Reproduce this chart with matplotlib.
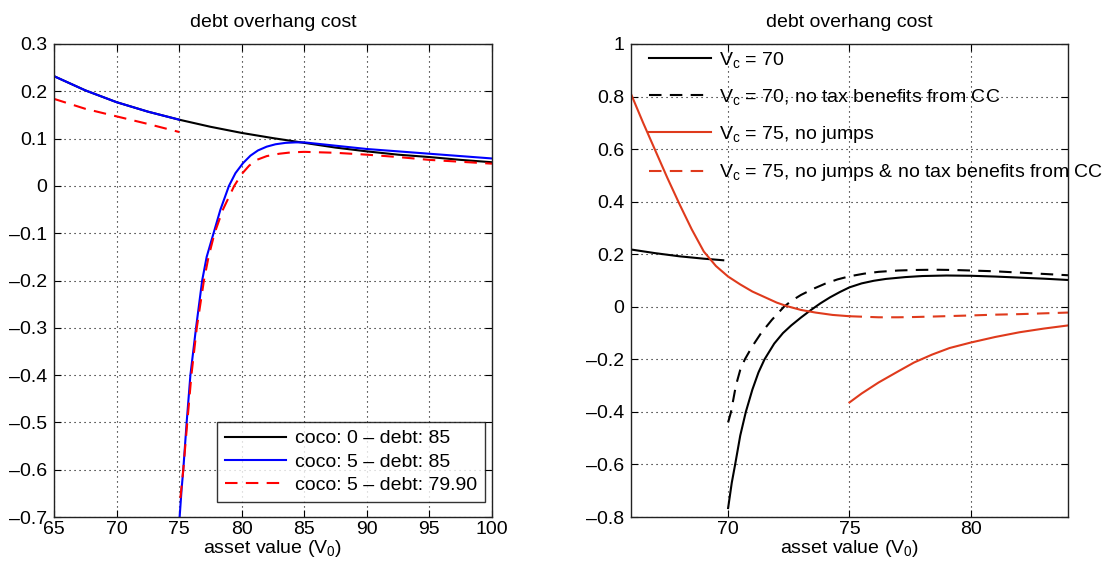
import matplotlib
matplotlib.use("Agg")
import matplotlib.pyplot as plt
from matplotlib.ticker import FuncFormatter

plt.rcParams['font.family'] = ['Liberation Sans', 'DejaVu Sans']
plt.rcParams['mathtext.fontset'] = 'custom'
plt.rcParams['mathtext.rm'] = 'Liberation Sans'
plt.rcParams['mathtext.it'] = 'Liberation Sans'
FS = 14
plt.rcParams['font.size'] = FS

# ---------------- left panel data ----------------
left_title = "debt overhang cost"
xlabel = "asset value (V$_0$)"

# coco: 0 - debt: 85 (black)
black_x = [65, 67.5, 70, 72.5, 75, 77.5, 80, 82.5, 85, 87.5, 90, 92.5, 95, 97.5, 100]
black_y = [0.232, 0.202, 0.177, 0.157, 0.140, 0.125, 0.112, 0.101, 0.091, 0.081, 0.073, 0.066, 0.061, 0.055, 0.050]

# coco: 5 - debt: 85 (blue), two branches
blue1_x = [65, 67.5, 70, 72.5, 75]
blue1_y = [0.232, 0.202, 0.177, 0.157, 0.140]
blue2_x = [75.04, 75.2, 75.33, 75.6, 75.9, 76.35, 76.84, 77.2, 77.75, 78.3, 78.98, 79.5, 80.1, 80.7,
           81.3, 82.0, 82.7, 83.5, 84.3, 85.0, 87.5, 90, 92.5, 95, 97.5, 100]
blue2_y = [-0.70, -0.64, -0.60, -0.50, -0.40, -0.30, -0.20, -0.15, -0.10, -0.05, 0.0, 0.027, 0.048, 0.064,
           0.075, 0.083, 0.088, 0.091, 0.092, 0.092, 0.085, 0.078, 0.073, 0.068, 0.063, 0.058]

# coco: 5 - debt: 79.90 (red dashed), two branches
red1_x = [65, 67.5, 70, 72.5, 75]
red1_y = [0.184, 0.163, 0.147, 0.131, 0.114]
red2_x = [75.1, 75.33, 75.65, 75.98, 76.41, 76.98, 77.35, 77.83, 78.5, 79.4, 80.0, 80.6, 81.2,
          82.0, 83.0, 84.0, 85.0, 87.5, 90, 92.5, 95, 97.5, 100]
red2_y = [-0.66, -0.60, -0.50, -0.40, -0.30, -0.20, -0.15, -0.10, -0.05, 0.0, 0.025, 0.043, 0.055,
          0.063, 0.068, 0.071, 0.072, 0.070, 0.066, 0.061, 0.055, 0.051, 0.047]

left_labels = ["coco: 0 \u2013 debt: 85", "coco: 5 \u2013 debt: 85", "coco: 5 \u2013 debt: 79.90"]
left_xticks = [65, 70, 75, 80, 85, 90, 95, 100]
left_yticks = [-0.7, -0.6, -0.5, -0.4, -0.3, -0.2, -0.1, 0, 0.1, 0.2, 0.3]

# ---------------- right panel data ----------------
# V_c = 70 (black solid), two branches
k1_x = [66, 67, 68, 69, 69.8]
k1_y = [0.218, 0.204, 0.192, 0.183, 0.177]
k2_x = [70.0, 70.15, 70.29, 70.5, 70.73, 71.0, 71.25, 71.5, 71.9, 72.26, 72.6, 73.0, 73.4, 73.8, 74.2,
        74.6, 75.0, 75.5, 76.0, 76.5, 77.3, 78.0, 79.0, 80.0, 81.0, 82.0, 83.0, 84.0]
k2_y = [-0.766, -0.67, -0.60, -0.49, -0.40, -0.315, -0.25, -0.20, -0.14, -0.10, -0.071, -0.041, -0.013, 0.013, 0.036,
        0.056, 0.074, 0.089, 0.099, 0.106, 0.113, 0.117, 0.119, 0.118, 0.115, 0.111, 0.107, 0.102]

# V_c = 70, no tax benefits from CC (black dashed)
kd_x = [70.0, 70.12, 70.32, 70.5, 70.69, 71.0, 71.36, 71.8, 72.3, 72.6, 73.0, 73.5, 74.0, 74.5, 75.0,
        75.6, 76.2, 77.0, 77.7, 78.5, 79.3, 80.0, 81.0, 82.0, 83.0, 84.0]
kd_y = [-0.44, -0.40, -0.30, -0.24, -0.20, -0.15, -0.10, -0.05, 0.0, 0.022, 0.045, 0.068, 0.088, 0.104, 0.116,
        0.126, 0.133, 0.138, 0.140, 0.141, 0.140, 0.138, 0.135, 0.130, 0.125, 0.120]

# V_c = 75, no jumps (red solid), two branches
r1_x = [66.0, 66.5, 67.0, 67.5, 68.0, 68.5, 69.0, 69.5, 70.0, 70.5, 71.0, 71.5, 72.0, 72.4, 73.0, 73.6, 74.3, 75.0]
r1_y = [0.81, 0.70, 0.595, 0.49, 0.39, 0.295, 0.21, 0.155, 0.115, 0.085, 0.058, 0.037, 0.016, 0.003, -0.012, -0.022, -0.031, -0.036]
r2_x = [75.0, 75.5, 76.2, 77.0, 77.66, 78.4, 79.12, 80.0, 81.0, 82.0, 83.0, 84.0]
r2_y = [-0.364, -0.33, -0.288, -0.246, -0.212, -0.182, -0.157, -0.136, -0.115, -0.097, -0.083, -0.071]

# V_c = 75, no jumps & no tax benefits from CC (red dashed)
rd_x = [75.0, 76.2, 77.0, 77.66, 78.5, 80.0, 81.0, 82.0, 83.0, 84.0]
rd_y = [-0.036, -0.040, -0.040, -0.039, -0.037, -0.033, -0.030, -0.028, -0.025, -0.022]

right_labels = ["$\\mathrm{V_c}$ = 70", "$\\mathrm{V_c}$ = 70, no tax benefits from CC",
                "$\\mathrm{V_c}$ = 75, no jumps", "$\\mathrm{V_c}$ = 75, no jumps & no tax benefits from CC"]
right_xticks = [70, 75, 80]
right_yticks = [-0.8, -0.6, -0.4, -0.2, 0, 0.2, 0.4, 0.6, 0.8, 1.0]

RED2 = '#DF3A1C'
LW = 1.5
DASH = (6, 4)


def fmt(v, pos):
    s = '%g' % round(v, 6)
    return s.replace('-', '\u2013')


def style(ax):
    ax.grid(True, linestyle=(0, (1, 3.5)), color='black', linewidth=0.8)
    ax.tick_params(direction='in', top=True, right=True, length=5, width=0.8, labelsize=FS, pad=3)
    ax.tick_params(axis='y', pad=5)
    for sp in ax.spines.values():
        sp.set_linewidth(1.0)
        sp.set_color('#222222')
    ax.yaxis.set_major_formatter(FuncFormatter(fmt))
    ax.xaxis.set_major_formatter(FuncFormatter(fmt))


fig = plt.figure(figsize=(11.15, 5.71), dpi=100)
ax1 = fig.add_axes([54 / 1115, 54 / 571, 438 / 1115, 473 / 571])
ax2 = fig.add_axes([631 / 1115, 54 / 571, 437 / 1115, 473 / 571])

# left
l1, = ax1.plot(black_x, black_y, color='black', lw=LW)
l2, = ax1.plot(blue1_x, blue1_y, color='blue', lw=LW)
ax1.plot(blue2_x, blue2_y, color='blue', lw=LW)
l3, = ax1.plot(red1_x, red1_y, color='red', lw=LW, dashes=DASH)
ax1.plot(red2_x, red2_y, color='red', lw=LW, dashes=DASH)
ax1.set_xlim(65, 100)
ax1.set_ylim(-0.7, 0.3)
ax1.set_xticks(left_xticks)
ax1.set_yticks(left_yticks)
style(ax1)
ax1.set_title(left_title, fontsize=FS, pad=12)
ax1.set_xlabel(xlabel, fontsize=FS, labelpad=0)
leg1 = ax1.legend([l1, l2, l3], left_labels, loc='lower right', fontsize=FS, frameon=True,
                  fancybox=False, edgecolor='black', handlelength=3.15, borderaxespad=0.0,
                  bbox_to_anchor=(431 / 438, 15 / 473),
                  labelspacing=0.3, borderpad=0.4, handletextpad=0.45)
leg1.get_frame().set_linewidth(1.0)

# right
m1, = ax2.plot(k1_x, k1_y, color='black', lw=LW)
ax2.plot(k2_x, k2_y, color='black', lw=LW)
m2, = ax2.plot(kd_x, kd_y, color='black', lw=LW, dashes=DASH)
m3, = ax2.plot(r1_x, r1_y, color=RED2, lw=LW)
ax2.plot(r2_x, r2_y, color=RED2, lw=LW)
m4, = ax2.plot(rd_x, rd_y, color=RED2, lw=LW, dashes=DASH)
ax2.set_xlim(66, 84)
ax2.set_ylim(-0.8, 1.0)
ax2.set_xticks(right_xticks)
ax2.set_yticks(right_yticks)
style(ax2)
ax2.set_title(left_title, fontsize=FS, pad=12)
ax2.set_xlabel(xlabel, fontsize=FS, labelpad=0)
leg2 = ax2.legend([m1, m2, m3, m4], right_labels, loc='upper left', fontsize=FS, frameon=False,
                  handlelength=3.15, borderaxespad=0.0, borderpad=0.0, labelspacing=0.88,
                  handletextpad=0.4, bbox_to_anchor=(18.5 / 437, 1.0 - 6 / 473))
for t in leg2.get_texts():
    t.set_clip_on(False)

fig.savefig("out.png", dpi=100)
